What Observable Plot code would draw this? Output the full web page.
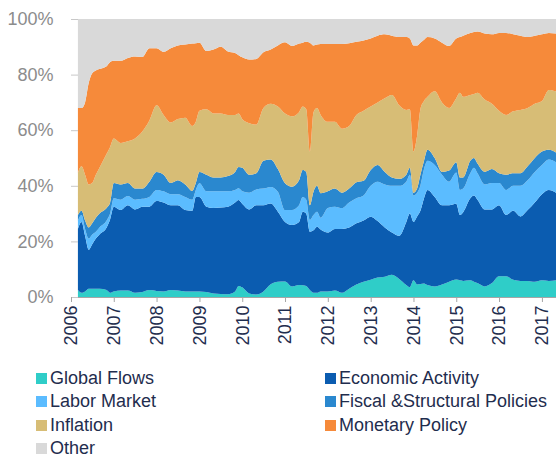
<!DOCTYPE html>
<html><head><meta charset="utf-8">
<script src="https://cdn.jsdelivr.net/npm/d3@7"></script>
<script src="https://cdn.jsdelivr.net/npm/@observablehq/plot@0.6"></script>
<style>
body{margin:0;background:#fff;font-family:"Liberation Sans",Arial,sans-serif;}
#wrap{position:relative;width:556px;height:457px;overflow:hidden;}
#legend{position:absolute;left:36px;top:367px;display:grid;grid-template-columns:289px 230px;grid-auto-rows:23.3px;font-size:18px;color:#1f2d4e;}
.item{display:flex;align-items:center;white-space:nowrap;}
.sw{width:11px;height:11px;margin-right:3px;flex:none;}
</style></head><body><div id="wrap"><div id="chart"></div><div id="legend"></div></div>
<script>
const dates = ["2006-03","2006-04","2006-05","2006-06","2006-07","2006-08","2006-09","2006-11","2006-12",
"2007-01","2007-03","2007-05","2007-07","2007-09","2007-11",
"2008-01","2008-03","2008-05","2008-07","2008-09","2008-11","2008-12",
"2009-01","2009-03","2009-05","2009-07","2009-09","2009-11","2009-12",
"2010-01","2010-03","2010-05","2010-07","2010-09","2010-11",
"2011-01","2011-03","2011-05","2011-06","2011-07","2011-08","2011-09","2011-10","2011-11",
"2012-01","2012-03","2012-05","2012-07","2012-09","2012-11",
"2013-01","2013-03","2013-05","2013-07","2013-09","2013-11","2013-12",
"2014-01","2014-02","2014-03","2014-04","2014-05","2014-07","2014-09","2014-11",
"2015-01","2015-02","2015-03","2015-05","2015-06","2015-07","2015-09","2015-11",
"2016-01","2016-03","2016-05","2016-07","2016-09","2016-11",
"2017-01","2017-03","2017-05"];

const globalFlows = [2.5,1.5,2,3,3,3,3,2.5,1.5,
2,2.3,2.3,1.5,1.8,2.5,
2.2,2,2.5,2.3,2,2,2,
2,1.8,1.3,1.1,1,2,4,
3.5,1.3,0.9,2,4.6,5.5,
5.6,3.8,4.3,4.2,4,2.5,1.5,1.5,2,
2,2.3,1.5,3,4.5,5.5,
6.2,7,7.3,8,6.5,4.3,3.5,
6,4.5,4.7,4.9,4.3,3.8,4.5,5.5,
6.3,6,5.8,6,5.5,5,3.8,5,
7.5,7.5,6.2,5.8,5.8,5.5,
6,5.8,6];

const economicActivity = [22,25.5,20,14,16,18,19.5,22.5,26.5,
30.5,29,30.7,30,30.7,30,
32.3,32,30.5,30.7,29.3,29,34,
34,30.7,30.7,31.1,31.5,32,30.9,
30,30.2,32.1,31,29,25.2,
21.4,22.1,22.7,26.5,26,21,22.5,23.8,22.3,
21.2,22.2,23,22,22,22,
22.7,20.3,17.7,15.2,15.5,22.7,26.5,
21,24.5,26.3,30.6,34.2,32.2,28.5,27.5,
27.2,23.5,24.7,29.5,31,30,27.7,26.5,
25.5,22,24.8,23.2,25.5,28.5,
31,32.7,31.5];

const laborMarket = [3,2.5,2.5,4,3.5,2.5,2.5,2.5,2,
3,3.7,3.3,3.5,2.8,3.5,
4,4,4,4,4.7,4,2.5,
4.9,5.5,6,5.8,5.5,4.5,4.2,
4.5,6,5.7,6,6,7.2,
4.3,5.4,6,5.3,5,4.2,5.5,5.4,4.2,
8.8,8,7.5,9,9,9,
11.1,14.2,15.5,16.8,18,14.5,14,
9.5,8.5,9,10.5,10.5,11.5,11,8.5,
11.3,9,8.5,9,10,9.5,9,9.5,
8,9,9,11,10.7,11,
10.5,11,11];

const fiscalPolicies = [2,1.5,3,4,4,5,5,4.5,4,
5.5,5.5,4.7,4,3.7,5.5,
6.5,6,4,5,4.5,3.2,2.5,
4.1,6,5,5,5.5,6.5,7.7,
8.5,6.5,5.8,10,9.9,8.1,
9.6,8.4,9,9.7,10,5.3,8.4,9.3,8.8,
6,6.5,5.5,5,5.8,5.3,
5.7,6,4.5,3,2.5,2.5,2.5,
1,1.5,4,3,4,2.5,1,4,
3.7,4.5,4,4.5,3.5,3.5,4.5,5,
3.5,5.5,4.5,4.5,5,5,
4.8,3.5,3.5];

const inflation = [15.1,16,16.5,15.5,14.5,15.5,16.5,19.5,20,
16,14.9,15,18,20.5,22,
24,21.5,21.8,22,24,23.3,22,
22,23.5,23,23,22,20.5,19.2,
17.5,18.5,17.5,19,20,22.5,
25.1,25.3,24.5,22.8,22.5,19.3,28.6,28,28.2,
25,24,23,22.5,24.2,25.2,
22.8,22.5,26.5,29.7,26.5,23.3,21,
14.8,19,23.5,21.5,19,24,25,22.5,
23,30.5,29,23.7,23,25.5,26,23.5,
22.5,21.5,22.3,22.8,21,19.5,
18.2,21.5,22];

const monetaryPolicy = [23.4,21,26,36.5,39.5,37.5,35.5,31.5,30.5,
28,29.6,30,29.5,26.8,26,
20.5,22.7,26.7,26.5,26.3,29.7,28.3,
24.5,21,23,24,22.8,22.3,21,
22.2,22.9,23.6,20,19.5,22,
25.6,25.3,24.7,23,24.3,39.2,24,22.8,25.5,
28,28,30.5,29.8,26.3,25.3,
24.5,24,23,21.3,24.5,26.2,25.5,
38.2,32.5,24,22,21.5,19,21.5,22.3,
21.5,20,22,22.3,22.3,22,23.8,25,
28,29.5,27.7,26.7,25.5,24.5,
24,20.5,20.8];

const other = [32,32,30,23,19.5,18.5,18,17,15.5,
15,15,14,13.5,13.7,10.5,
10.5,11.8,10.5,9.5,9.2,8.8,8.7,
8.5,11.5,11,10,11.7,12.2,13,
13.8,14.6,14.4,12,11,9.5,
8.4,9.7,8.8,8.5,8.2,8.5,9.5,9.2,9,
9,9,9,8.7,8.2,7.7,
7,6,5.5,6,6.5,6.5,7,
9.5,9.5,8.5,7.5,6.5,7,8.5,9.7,
7,6.5,6,5,4.7,4.5,5.2,5.5,
5,5,5.5,6,6.5,6,
5.5,5,5.2];

const seriesNames = ["Global Flows","Economic Activity","Labor Market","Fiscal &Structural Policies","Inflation","Monetary Policy","Other"];
const seriesColors = ["#2fcdc8","#0b5cb0","#5bbcff","#2a88cf","#d7bd76","#f68a3a","#d9d9d9"];
const legendOrder = ["Global Flows","Economic Activity","Labor Market","Fiscal &Structural Policies","Inflation","Monetary Policy","Other"];
const yTicks = [0,20,40,60,80,100];
const yearTicks = [2006,2007,2008,2009,2010,2011,2012,2013,2014,2015,2016,2017];

const seriesValues = [globalFlows, economicActivity, laborMarket, fiscalPolicies, inflation, monetaryPolicy, other];
const data = [];
seriesNames.forEach((s, i) => dates.forEach((d, j) => data.push({date: new Date(d + "-01T00:00:00Z"), series: s, value: seriesValues[i][j]})));

const font = '"Liberation Sans", Arial, sans-serif';
const chart = Plot.plot({
  width: 556, height: 352,
  marginLeft: 71, marginRight: 0, marginTop: 19, marginBottom: 55,
  style: {fontFamily: font, fontSize: "18px", background: "transparent", overflow: "visible"},
  x: {type: "utc", domain: [new Date("2006-01-01T00:00:00Z"), new Date("2017-05-01T00:00:00Z")]},
  y: {domain: [0, 100]},
  color: {domain: seriesNames, range: seriesColors},
  marks: [
    Plot.areaY(data, {x: "date", y: "value", z: "series", fill: "series", order: seriesNames, curve: "monotone-x"}),
    Plot.ruleY([0], {stroke: "#a6a6a6"}),
    Plot.axisY(yTicks, {tickSize: 7, dx: 7, tickPadding: 18, stroke: "#c8c8c8", fill: "#8c8c8c", fontSize: 18, tickFormat: d => d + "%", label: null}),
    Plot.axisX(yearTicks.map(y => new Date(Date.UTC(y, 0, 1))), {tickSize: 5, tickPadding: 3, tickRotate: -90, tickFormat: d => String(d.getUTCFullYear()), stroke: "#a6a6a6", fill: "#1f2d4e", fontSize: 18, label: null})
  ]
});
document.getElementById("chart").appendChild(chart);

const legend = document.getElementById("legend");
legendOrder.forEach(name => {
  const i = seriesNames.indexOf(name);
  const item = document.createElement("div");
  item.className = "item";
  const sw = document.createElement("span");
  sw.className = "sw";
  sw.style.background = seriesColors[i];
  const label = document.createElement("span");
  label.textContent = name;
  item.appendChild(sw); item.appendChild(label);
  legend.appendChild(item);
});
</script></body></html>
